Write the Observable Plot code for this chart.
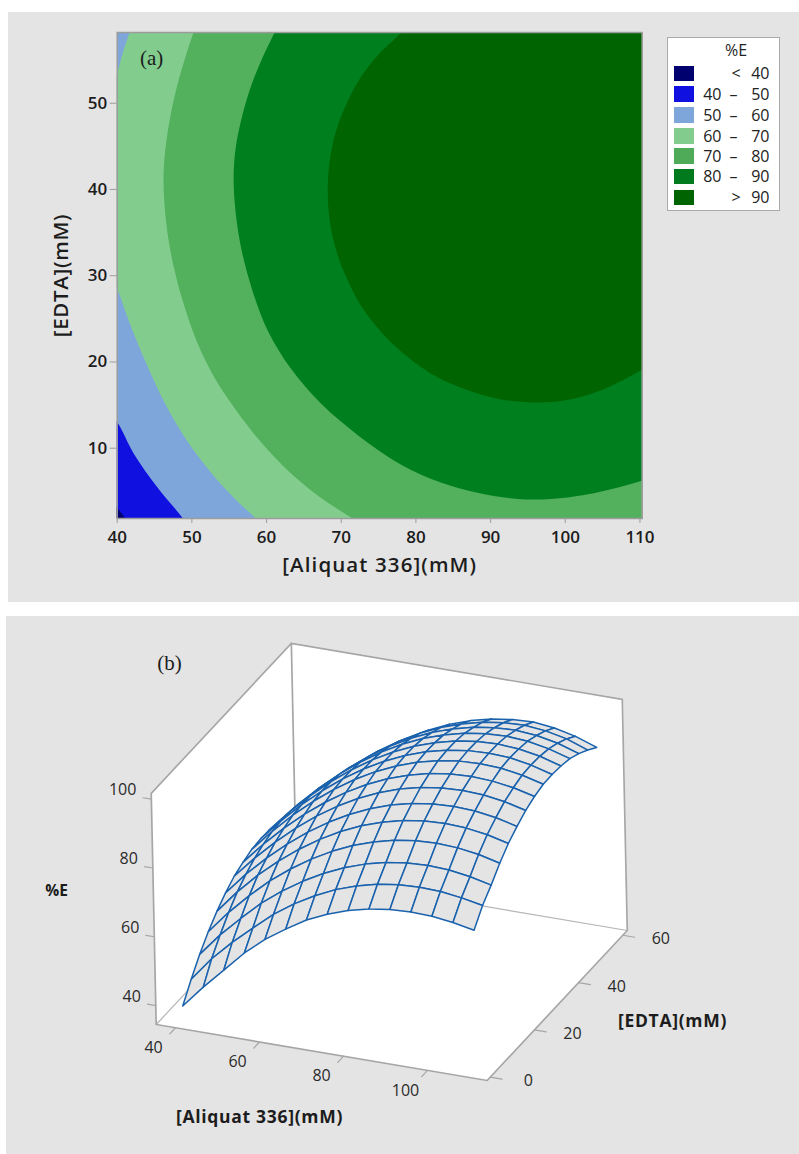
<!DOCTYPE html>
<html><head><meta charset="utf-8">
<script src="https://cdn.jsdelivr.net/npm/d3@7"></script>
<script src="https://cdn.jsdelivr.net/npm/@observablehq/plot@0.6"></script>
<style>
html,body{margin:0;padding:0;background:#fff;width:799px;height:1154px;overflow:hidden;font-family:"Open Sans",sans-serif}
.panel{position:absolute;background:#e4e4e4}
#panelA{left:8px;top:12px;width:791px;height:590px}
#panelB{left:6px;top:616px;width:793px;height:538px}
#plotA,#plotB{position:absolute;left:0}
#plotA{top:0}#plotB{top:616px}
svg{background:transparent;display:block}
#legend{position:absolute;left:667px;top:37px;width:111px;height:172px;background:#fff;border:1.5px solid #aaa;color:#222;font-size:16px;font-weight:500}
#legend div{position:absolute;line-height:14px}
.wideA{letter-spacing:1.1px}
.wideB{letter-spacing:0.7px}
</style></head><body>
<div class="panel" id="panelA"></div><div class="panel" id="panelB"></div>
<div id="plotA"></div><div id="plotB"></div><div id="legend"></div>
<script>
// ---- panel (a): contour boundaries, [Aliquat, EDTA]
const xTicksA = [40,50,60,70,80,90,100,110];
const yTicksA = [10,20,30,40,50];
const xDomainA = [40,110.3], yDomainA = [1.85,58.2];
const bandBase = "#7ea6da";
const ge60 = [[42.2,60],[41.65,58.2],[40.85,56.15],[40,53.5],[38,48],[38,33],[40,28.54],[41.78,24.25],[44.06,19.49],[46.47,15.08],[49.42,10.79],[52.77,6.96],[55.72,4.18],[58.54,1.86],[60.4,0.2],[125,-10],[125,70]];
const ge70 = [[51,60],[50.23,58.24],[49.29,55.8],[48.22,52.67],[47.28,49.19],[46.6,45.71],[46.21,41.88],[46.34,38.17],[46.88,34.11],[47.68,30.63],[48.75,27.15],[50.76,22.16],[52.64,18.79],[54.79,15.78],[58.27,11.72],[62.29,7.89],[66.85,4.52],[71.67,1.74],[73.5,0.6],[125,-10],[125,70]];
const ge80 = [[62,60],[61.09,58.24],[59.48,55.34],[57.87,51.86],[56.66,48.26],[55.86,44.78],[55.59,41.3],[55.86,37.35],[56.66,32.95],[58.54,27.15],[60.28,23.43],[63.23,19.26],[67.25,15.2],[72.61,11.25],[77.97,8.12],[83.33,6.03],[88.7,4.75],[93.66,4.12],[98.09,4.12],[102.5,4.58],[107.07,5.45],[110.38,6.25],[112,6.7],[125,70]];
const ge90 = [[79.5,59.5],[77.97,58.12],[75.03,55.68],[72.61,53.02],[70.74,50],[69.26,46.64],[68.46,43.39],[68.19,39.91],[68.46,36.43],[69.4,32.71],[70.87,29.47],[72.61,26.57],[75.03,23.78],[77.97,21.23],[82.4,18.45],[86.96,16.71],[91.38,15.66],[95.81,15.31],[100.1,15.55],[104.8,16.71],[110.38,19.14],[112,20],[112.3,56.7],[107.3,59.2]];
const lt50 = [[38,15],[40,13],[42.2,9.4],[45.4,5.45],[48.9,1.75],[50,0.3],[38,0.3]];
const lt40 = [[39,4.4],[40,3.1],[41.1,1.85],[42,0.8],[39,0.8]];
const bands = [[lt50,"#1010e0"],[lt40,"#00006e"],[ge60,"#82cd8e"],[ge70,"#53b05c"],[ge80,"#007f1e"],[ge90,"#006400"]];

// ---- legend
const legendLow = ["<","40","50","60","70","80",">"];
const legendHigh = ["40","50","60","70","80","90","90"];
const legendColors = ["#00006e","#1010e0","#7ea6da","#82cd8e","#4fab58","#007a1c","#006400"];

// ---- panel (b): %E at grid nodes, rows by EDTA, columns by Aliquat
const aliquatNodes = [40,45,50,55,60,65,70,75,80,85,90,95,100,105,110];
const edtaNodes = [2,6,10,14,18,22,26,30,34,38,42,46,50,54,58];
const e02 = [38.5,45,51,57,62,66,69.7,72.4,74.5,76,76.9,77.2,77,76.2,75];
const e06 = [43.5,50.5,56.3,61.5,66.5,70.6,74,76.8,78.9,80.4,81.3,81.6,81.4,80.6,79.4];
const e10 = [48,54.7,60.5,66,70.5,74.4,77.7,80.4,82.5,84,84.9,85.2,84.9,84,82.6];
const e14 = [51.8,58.5,64.4,69.7,74.2,78.1,81.4,84.1,86.2,87.7,88.6,88.9,88.6,87.7,86.2];
const e18 = [55,61.7,67.6,72.7,77.2,81.1,84.4,87.1,89.2,90.7,91.6,91.9,91.6,90.7,89.2];
const e22 = [57.6,64.1,69.8,74.9,79.4,83.3,86.6,89.3,91.4,92.9,93.8,94.1,93.8,92.9,91.4];
const e26 = [59.7,66,71.7,76.8,81.3,85.2,88.5,91.2,93.3,94.8,95.7,96,95.7,94.8,93.3];
const e30 = [61,67.3,73,78.1,82.6,86.5,89.8,92.5,94.6,96.1,97,97.3,97,96.1,94.6];
const e34 = [62,68.3,74,79.1,83.6,87.5,90.8,93.5,95.6,97.1,98,98.3,98,97,95.4];
const e38 = [62.3,68.6,74.3,79.4,83.9,87.8,91.1,93.8,95.9,97.4,98.3,98.6,98.3,97.2,95.5];
const e42 = [62.2,68.5,74.2,79.3,83.8,87.7,91,93.7,95.8,97.3,98.2,98.5,98.1,97,95.2];
const e46 = [61.7,68,73.7,78.8,83.3,87.2,90.5,93.2,95.3,96.8,97.7,98,97.6,96.4,94.6];
const e50 = [60.7,67,72.7,77.8,82.3,86.2,89.5,92.2,94.3,95.8,96.7,97,96.5,95.3,93.3];
const e54 = [59.4,65.7,71.4,76.5,81,84.9,88.2,90.9,93,94.5,95.4,95.7,95.1,93.8,91.6];
const e58 = [57.6,63.9,69.6,74.7,79.2,83.1,86.4,89.1,91.2,92.7,93.6,93.9,93.2,91.8,89.6];
const surface = [e02,e06,e10,e14,e18,e22,e26,e30,e34,e38,e42,e46,e50,e54,e58];
const aliquatTicks = [40,60,80,100];
const edtaTicks = [0,20,40,60];
const percentTicks = [40,60,80,100];
const boxAliquat = [35.4,114.2], boxEdta = [-1.4,62], boxPercent = [34.5,101.7];

const font = '"Open Sans",sans-serif';
const serif = '"Liberation Serif",serif';

// ---- panel (a)
document.getElementById("plotA").append(Plot.plot({
  width:799,height:616,marginLeft:116.7,marginRight:157.3,marginTop:32,marginBottom:98,
  style:{background:"transparent",fontFamily:font},
  x:{domain:xDomainA},y:{domain:yDomainA},
  marks:[
    Plot.frame({fill:bandBase,stroke:"none"}),
    ...bands.map(([pts,c])=>Plot.line(pts,{x:d=>d[0],y:d=>d[1],fill:c,stroke:"none",curve:"catmull-rom",clip:true})),
    Plot.frame({stroke:"#9c9c9c",strokeWidth:1.5}),
    Plot.axisX({ticks:xTicksA,tickSize:5,tickPadding:7,label:null,stroke:"#9c9c9c",fill:"#1c1c1c",fontSize:17,fontWeight:600,fontFamily:font}),
    Plot.axisY({ticks:yTicksA,tickSize:7,tickPadding:3,label:null,stroke:"#9c9c9c",fill:"#1c1c1c",fontSize:17,fontWeight:600,fontFamily:font}),
    Plot.text(["[Aliquat 336](mM)"],{frameAnchor:"bottom",dy:53,fontSize:20.5,fontWeight:600,fill:"#1c1c1c",fontFamily:font,className:"wideA"}),
    Plot.text(["[EDTA](mM)"],{frameAnchor:"left",dx:-56,rotate:-90,textAnchor:"middle",fontSize:20.5,fontWeight:600,fill:"#1c1c1c",fontFamily:font,className:"wideB"}),
    Plot.text(["(a)"],{x:[44.6],y:[55.2],fontSize:21,fill:"#1c1c1c",fontFamily:serif})
  ]
}));

// ---- legend
const lg=document.getElementById("legend");
const add=(txt,left,top,w,align)=>{const d=document.createElement("div");d.textContent=txt;d.style.cssText=`left:${left}px;top:${top}px;width:${w}px;text-align:${align}`;lg.append(d);return d};
add("%E",39,4.5,58,"center");
const rowY=[35,55.5,76.5,97.5,117.5,138,159];
legendColors.forEach((c,i)=>{
  const s=document.createElement("div");
  s.style.cssText=`left:6px;top:${rowY[i]-7.5}px;width:20px;height:15.5px;background:${c}`;lg.append(s);
  if(legendLow[i]==="<"||legendLow[i]===">"){add(legendLow[i],61,rowY[i]-7,14,"center")}
  else{add(legendLow[i],28.5,rowY[i]-7,25,"right");add("–",58.5,rowY[i]-7,14,"center")}
  add(legendHigh[i],74.5,rowY[i]-7,27,"right");
});

// ---- panel (b): oblique projection of (Aliquat, EDTA, %E) onto the picture
const project=(a,e,p)=>[
  155.7+(a-35.4)*4.2+(e+1.4)*2.21-(p-34.5)*0.074,
  1024+(a-35.4)*0.711-(e+1.4)*2.366-(p-34.5)*3.44
];
const [a0,a1]=boxAliquat,[e0,e1]=boxEdta,[p0,p1]=boxPercent;
const poly=(...c)=>c.map(k=>project(...k));
const walls=[
  poly([a0,e0,p0],[a1,e0,p0],[a1,e1,p0],[a0,e1,p0]),
  poly([a0,e0,p0],[a0,e1,p0],[a0,e1,p1],[a0,e0,p1]),
  poly([a0,e1,p0],[a1,e1,p0],[a1,e1,p1],[a0,e1,p1])
];
const thinEdges=[poly([a0,e0,p0],[a0,e1,p0],[a1,e1,p0])];
const thickEdges=[
  poly([a0,e0,p1],[a0,e0,p0],[a1,e0,p0],[a1,e1,p0],[a1,e1,p1],[a0,e1,p1],[a0,e0,p1]),
  poly([a0,e1,p0],[a0,e1,p1])
];
const cells=[];
for(let a=0;a<aliquatNodes.length-1;a++)for(let j=edtaNodes.length-2;j>=0;j--){
  const n=(ia,ie)=>project(aliquatNodes[ia],edtaNodes[ie],surface[ie][ia]);
  cells.push([n(a,j),n(a+1,j),n(a+1,j+1),n(a,j+1),n(a,j)]);
}
const X=d=>d[0],Y=d=>d[1];
const stub=(pts,col)=>pts.map(([s,t])=>Plot.line([s,t],{x:X,y:Y,stroke:col,strokeWidth:1.2}));
const gray="#a6a6a6";
const tickA=aliquatTicks.map(v=>[project(v,e0,p0),project(v,e0-2.6,p0)]);
const tickE=edtaTicks.map(v=>[project(a1,v,p0),project(a1+2.8,v,p0)]);
const tickP=percentTicks.map(v=>[project(a0,e0,v),project(a0-2,e0,v)]);
const t3={fontFamily:font,fontSize:16,fill:"#2a2a2a"};
const t4={fontFamily:font,fontWeight:700,fontSize:17.5,fill:"#1c1c1c"};
document.getElementById("plotB").append(Plot.plot({
  width:799,height:538,margin:0,
  style:{background:"transparent",fontFamily:font},
  x:{domain:[0,799],range:[0,799],axis:null},
  y:{domain:[616,1154],range:[0,538],axis:null},
  marks:[
    ...walls.map(w=>Plot.line(w,{x:X,y:Y,fill:"#fff",stroke:"#fff"})),
    ...thinEdges.map(w=>Plot.line(w,{x:X,y:Y,stroke:"#b5b5b5",strokeWidth:1.2})),
    ...thickEdges.map(w=>Plot.line(w,{x:X,y:Y,stroke:gray,strokeWidth:1.7})),
    ...stub(tickA,gray),...stub(tickE,gray),...stub(tickP,gray),
    ...cells.map(c=>Plot.line(c,{x:X,y:Y,fill:"#e4e4e4",stroke:"#1a62ad",strokeWidth:1.5})),
    Plot.text(aliquatTicks,{x:v=>project(v,e0,p0)[0],y:v=>project(v,e0,p0)[1],text:String,dx:-22,dy:20,...t3}),
    Plot.text(edtaTicks,{x:v=>project(a1,v,p0)[0],y:v=>project(a1,v,p0)[1],text:String,dx:38,dy:4,...t3}),
    Plot.text(percentTicks,{x:v=>project(a0,e0,v)[0],y:v=>project(a0,e0,v)[1],text:String,dx:-15,dy:-9,textAnchor:"end",...t3}),
    Plot.text(["[Aliquat 336](mM)"],{x:[259],y:[1117],...t4,className:"wideB"}),
    Plot.text(["[EDTA](mM)"],{x:[672],y:[1021],...t4,className:"wideB"}),
    Plot.text(["%E"],{x:[56],y:[891],...t4,fontSize:15.5}),
    Plot.text(["(b)"],{x:[169],y:[663],fontFamily:serif,fontSize:21,fill:"#1c1c1c"})
  ]
}));
</script>
</body></html>
